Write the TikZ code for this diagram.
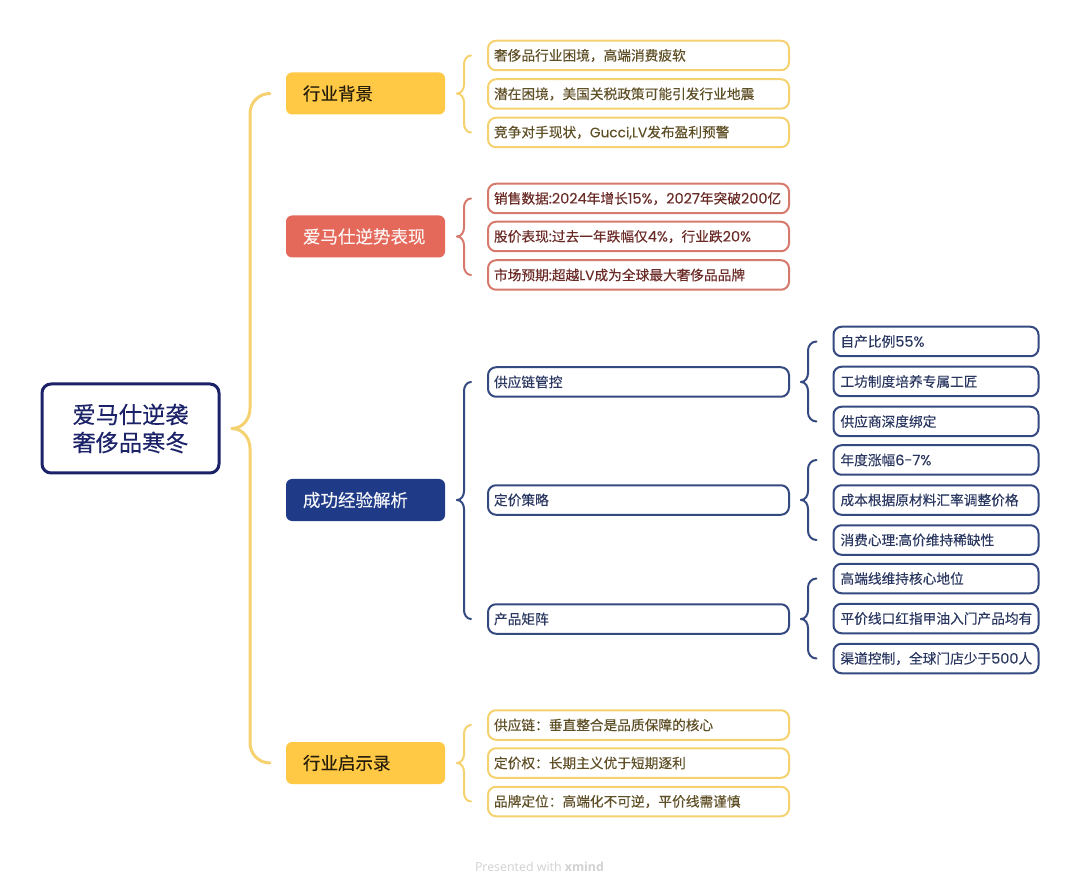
\documentclass[tikz,border=0pt]{standalone}
\usepackage{fontspec}
\setmainfont[FakeBold=0.2]{Noto Sans CJK SC}
\newfontfamily\latfont[FakeBold=0.1]{Poppins}
\newfontfamily\numfont[Scale=1.057,FakeBold=0.1]{Poppins}
\newfontfamily\markfont{Open Sans}
\usetikzlibrary{calc}
\definecolor{rootblue}{HTML}{1B2268}
\definecolor{goldfill}{HTML}{FFC845}
\definecolor{goldline}{HTML}{F5D26F}
\definecolor{goldtext}{HTML}{5F4F26}
\definecolor{redfill}{HTML}{E4695A}
\definecolor{redline}{HTML}{D57A6C}
\definecolor{redtext}{HTML}{6A2A26}
\definecolor{navyfill}{HTML}{1F3A87}
\definecolor{navyline}{HTML}{34497F}
\definecolor{navytext}{HTML}{2A3760}
\newcommand{\la}[1]{{\latfont #1}}
\newcommand{\nm}[1]{{\numfont #1}}
\tikzset{
	topicbox/.style={fill=#1,rounded corners=6pt,minimum width=159pt,minimum height=42pt,text width=125pt,inner xsep=17pt,inner ysep=0pt,outer sep=0pt,align=left,font=\fontsize{17.5pt}{21pt}\selectfont},
	itembox/.style={draw=#1,line width=2pt,rounded corners=8pt,minimum height=29.5pt,inner ysep=0pt,outer sep=0pt,align=left,font=\fontsize{13.7pt}{16pt}\selectfont},
	childbox/.style={itembox=#1,text width=289pt,inner xsep=6pt},
	leafbox/.style={itembox=#1,text width=191pt,inner xsep=7pt},
	bracelink/.style={draw=#1,line width=2pt,line cap=round}
}
% tip gap, column offset, end gap, curve height
\newcommand{\linkbrace}[8]{
	\coordinate (tip) at ($(#2.east)+(#5,0)$);
	\coordinate (col) at ($(tip)+(#6,0)$);
	\draw[bracelink=#1] (tip) to[out=0,in=-90] ($(col)+(0,#8)$) -- ($(col |- #3.west)+(0,-#8)$) to[out=90,in=180] ($(#3.west)+(-#7,0)$);
	\draw[bracelink=#1] (tip) to[out=0,in=90] ($(col)+(0,-#8)$) -- ($(col |- #4.west)+(0,#8)$) to[out=-90,in=180] ($(#4.west)+(-#7,0)$);
}
\begin{document}
\begin{tikzpicture}[x=1pt,y=1pt]
	\useasboundingbox (0,0) rectangle (1080,-893);
	\node[draw=rootblue,line width=3pt,rounded corners=9pt,minimum width=177pt,minimum height=89pt,outer sep=0pt,align=center,text=rootblue,font=\fontsize{23.2pt}{28pt}\selectfont] (root) at (130.5,-428.5) {爱马仕逆袭\\奢侈品寒冬};

	\node[topicbox=goldfill,text=black!85!goldfill] (bg) at (365.5,-93.5) {行业背景};
	\node[topicbox=redfill,text=white!92!redfill] (perf) at (365.5,-236.5) {爱马仕逆势表现};
	\node[topicbox=navyfill,text=white!95!navyfill] (exp) at (365.5,-500) {成功经验解析};
	\node[topicbox=goldfill,text=black!85!goldfill] (ins) at (365.5,-763) {行业启示录};

	\begin{scope}[every node/.style={childbox=goldline,text=goldtext}]
		\node (bg1) at (638.5,-55.5) {奢侈品行业困境，高端消费疲软};
		\node (bg2) at (638.5,-94) {潜在困境，美国关税政策可能引发行业地震};
		\node (bg3) at (638.5,-132.5) {竞争对手现状，\la{Gucci,LV}发布盈利预警};
		\node (ins1) at (638.5,-725) {供应链：垂直整合是品质保障的核心};
		\node (ins2) at (638.5,-763) {定价权：长期主义优于短期逐利};
		\node (ins3) at (638.5,-801.5) {品牌定位：高端化不可逆，平价线需谨慎};
	\end{scope}
	\begin{scope}[every node/.style={childbox=redline,text=redtext}]
		\node (perf1) at (638.5,-198.5) {销售数据\nm{:2024}年增长\nm{15\%}，\nm{2027}年突破\nm{200}亿};
		\node (perf2) at (638.5,-236.5) {股价表现\nm{:}过去一年跌幅仅\nm{4\%}，行业跌\nm{20\%}};
		\node (perf3) at (638.5,-275) {市场预期\nm{:}超越\la{LV}成为全球最大奢侈品品牌};
	\end{scope}
	\begin{scope}[every node/.style={childbox=navyline,text=navytext}]
		\node (sup) at (638.5,-382) {供应链管控};
		\node (price) at (638.5,-500) {定价策略};
		\node (prod) at (638.5,-619) {产品矩阵};
	\end{scope}
	\begin{scope}[every node/.style={leafbox=navyline,text=navytext}]
		\node (sup1) at (936,-341.5) {自产比例\nm{55\%}};
		\node (sup2) at (936,-381.5) {工坊制度培养专属工匠};
		\node (sup3) at (936,-421.5) {供应商深度绑定};
		\node (price1) at (936,-460) {年度涨幅\nm{6-7\%}};
		\node (price2) at (936,-500) {成本根据原材料汇率调整价格};
		\node (price3) at (936,-540) {消费心理\nm{:}高价维持稀缺性};
		\node (prod1) at (936,-578.5) {高端线维持核心地位};
		\node (prod2) at (936,-618.5) {平价线口红指甲油入门产品均有};
		\node (prod3) at (936,-658.5) {渠道控制，全球门店少于\nm{500}人};
	\end{scope}

	\linkbrace{goldline,line width=3pt}{root}{bg}{ins}{13}{18}{16}{20}
	\linkbrace{goldline}{bg}{bg1}{bg3}{12}{7}{17}{9}
	\linkbrace{redline}{perf}{perf1}{perf3}{12}{7}{17}{9}
	\linkbrace{navyline}{exp}{sup}{prod}{12}{7}{17}{9}
	\linkbrace{goldline}{ins}{ins1}{ins3}{12}{7}{17}{9}
	\linkbrace{navyline}{sup}{sup1}{sup3}{12}{7}{17}{9}
	\linkbrace{navyline}{price}{price1}{price3}{12}{7}{17}{9}
	\linkbrace{navyline}{prod}{prod1}{prod3}{12}{7}{17}{9}

	\node[text=black!18,font=\markfont\fontsize{12.4pt}{14pt}\selectfont] (mark) at (539.5,-867) {Presented with \textbf{xmind}};
\end{tikzpicture}
\end{document}
